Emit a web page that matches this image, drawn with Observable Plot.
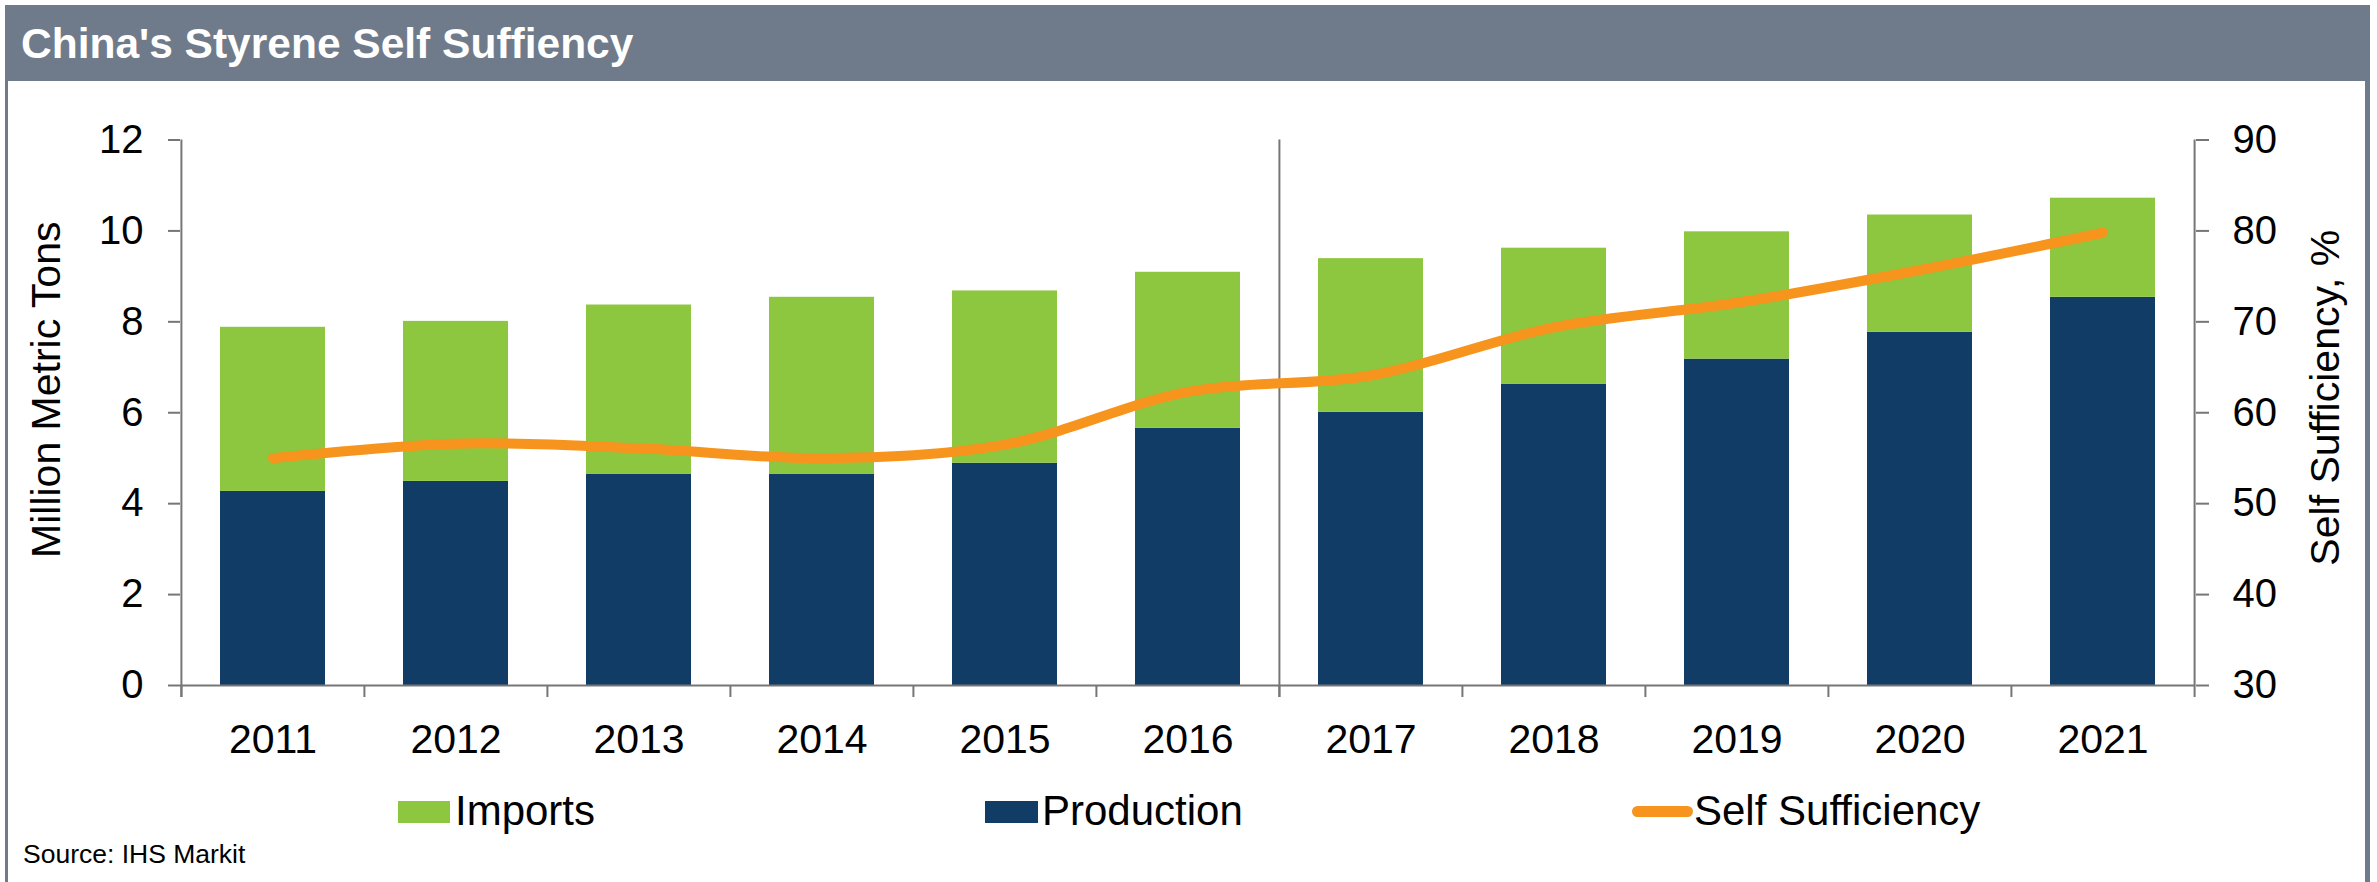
<!DOCTYPE html>
<html>
<head>
<meta charset="utf-8">
<script src="https://cdn.jsdelivr.net/npm/d3@7"></script>
<script src="https://cdn.jsdelivr.net/npm/@observablehq/plot@0.6"></script>
<style>
  html, body { margin: 0; padding: 0; background: #fff; }
  body { width: 2377px; height: 882px; position: relative; overflow: hidden;
         font-family: "Liberation Sans", Arial, sans-serif; color: #000; }
  .abs { position: absolute; white-space: nowrap; line-height: 1; }
  #leftBorder { position: absolute; left: 5px; top: 5px; width: 3px; height: 877px; background: #6F7B8A; }
  #rightBorder { position: absolute; left: 2365px; top: 5px; width: 5px; height: 877px; background: #6F7B8A; }
  #titlebar { position: absolute; left: 5px; top: 5px; width: 2365px; height: 76px; background: #6F7B8A; }
  #chart { position: absolute; left: 8px; top: 81px; }
</style>
</head>
<body>
<div id="titlebar"></div>
<div id="leftBorder"></div>
<div id="rightBorder"></div>
<div id="chart"></div>
<script>
// ---- data ----
const years = ["2011", "2012", "2013", "2014", "2015", "2016", "2017", "2018", "2019", "2020", "2021"];
const production = [4.27, 4.49, 4.65, 4.65, 4.89, 5.66, 6.01, 6.63, 7.18, 7.77, 8.54];
const imports = [3.61, 3.52, 3.72, 3.89, 3.79, 3.43, 3.38, 2.99, 2.80, 2.58, 2.18];
const selfSufficiency = [55.0, 56.6, 56.1, 55.0, 56.5, 62.3, 64.1, 69.4, 72.1, 75.7, 79.8];
const leftTicks = [0, 2, 4, 6, 8, 10, 12];
const rightTicks = [30, 40, 50, 60, 70, 80, 90];
const seriesNames = ["Production", "Imports"];
const lineName = "Self Sufficiency";
const titleText = "China's Styrene Self Suffiency";
const leftLabel = "Million Metric Tons";
const rightLabel = "Self Sufficiency, %";
const sourceText = "Source: IHS Markit";

// ---- styling ----
const NAVY = "#113C66", GREEN = "#8DC63F", ORANGE = "#F7941D", AXIS = "#767676";
const FONT = "'Liberation Sans', Arial, sans-serif";

// ---- layout ----
const W = 2357, H = 700, ML = 172, MR = 170, MT = 58.5, MB = 96;
const step = (W - ML - MR) / years.length;
const plotH = H - MT - MB;

// right axis [30, 90] shares the left [0, 12] range
const lo = rightTicks[0], hi = rightTicks[rightTicks.length - 1];
const yMax = leftTicks[leftTicks.length - 1];
const pctToY = p => (p - lo) / (hi - lo) * yMax;
const yToPct = v => lo + v / yMax * (hi - lo);

const rows = [
  ...years.map((year, i) => ({year, series: seriesNames[0], value: production[i]})),
  ...years.map((year, i) => ({year, series: seriesNames[1], value: imports[i]}))
];
const linePts = years.map((year, i) => ({year, pct: selfSufficiency[i]}));

const chart = Plot.plot({
  width: W, height: H,
  marginLeft: ML, marginRight: MR, marginTop: MT, marginBottom: MB,
  style: {background: "transparent", fontFamily: FONT, color: "#000", overflow: "visible"},
  x: {type: "band", domain: years, paddingInner: 0.427, paddingOuter: 0.2135},
  y: {domain: [0, yMax]},
  color: {domain: seriesNames, range: [NAVY, GREEN]},
  marks: [
    Plot.barY(rows, Plot.stackY({x: "year", y: "value", fill: "series", order: null})),
    Plot.ruleY([0], {stroke: AXIS, strokeWidth: 2}),
    Plot.ruleX(years, {x: d => d, dx: -step / 2, insetTop: plotH, insetBottom: -12, stroke: AXIS, strokeWidth: 2}),
    Plot.ruleX([years[0], years[6]], {x: d => d, dx: -step / 2, insetBottom: -12, stroke: AXIS, strokeWidth: 2}),
    Plot.ruleX([years[years.length - 1]], {x: d => d, dx: step / 2, insetBottom: -12, stroke: AXIS, strokeWidth: 2}),
    Plot.line(linePts, {x: "year", y: d => pctToY(d.pct), stroke: ORANGE, strokeWidth: 10,
      curve: "catmull-rom", strokeLinecap: "round", strokeLinejoin: "round"}),
    Plot.axisY({anchor: "left", ticks: leftTicks, tickSize: 12, tickPadding: 25,
      stroke: AXIS, strokeWidth: 2, fill: "#000", fontSize: 40, label: null}),
    Plot.axisY({anchor: "right", ticks: rightTicks.map(pctToY), tickFormat: d => String(Math.round(yToPct(d))),
      tickSize: 13, tickPadding: 24, stroke: AXIS, strokeWidth: 2, fill: "#000", fontSize: 40, label: null}),
    Plot.axisX({tickSize: 0, tickPadding: 38, fill: "#000", fontSize: 41, label: null}),
    Plot.text([leftLabel], {text: d => d, frameAnchor: "left", textAnchor: "middle", lineAnchor: "middle",
      dx: -134, dy: -23, rotate: -90, fontSize: 41, fill: "#000"}),
    Plot.text([rightLabel], {text: d => d, frameAnchor: "right", textAnchor: "middle", lineAnchor: "middle",
      dx: 130, dy: -15, rotate: -90, fontSize: 41, fill: "#000"})
  ]
});
document.getElementById("chart").appendChild(chart);

// ---- HTML title, legend, source ----
function textAt(str, left, baseline, size, extra = {}) {
  const el = document.createElement("div");
  el.className = "abs";
  el.textContent = str;
  el.style.left = left + "px";
  el.style.top = (baseline - 0.8465 * size) + "px";
  el.style.fontSize = size + "px";
  Object.assign(el.style, extra);
  document.body.appendChild(el);
  return el;
}
function boxAt(left, top, w, h, color, radius = 0) {
  const el = document.createElement("div");
  el.style.position = "absolute";
  el.style.left = left + "px"; el.style.top = top + "px";
  el.style.width = w + "px"; el.style.height = h + "px";
  el.style.background = color; el.style.borderRadius = radius + "px";
  document.body.appendChild(el);
}
textAt(titleText, 21, 59, 42.5, {color: "#fff", fontWeight: "bold"});

boxAt(398, 801, 52, 22, GREEN);
textAt(seriesNames[1], 455, 826, 42);
boxAt(985, 801, 53, 22, NAVY);
textAt(seriesNames[0], 1042, 826, 42);
boxAt(1632, 806, 61, 11, ORANGE, 6);
textAt(lineName, 1694, 826, 42);

textAt(sourceText, 23, 863, 26.5);
</script>
</body>
</html>
